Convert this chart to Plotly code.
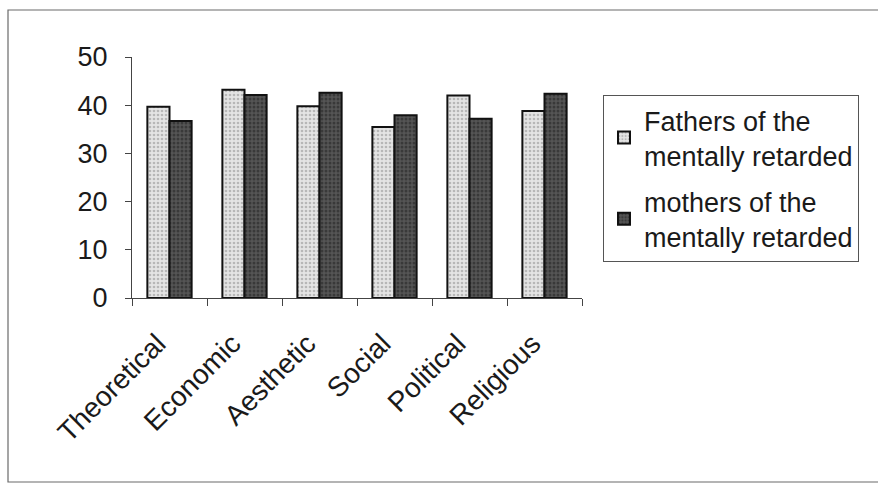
import plotly.graph_objects as go

# Value scores by parent group
categories = ["Theoretical", "Economic", "Aesthetic", "Social", "Political", "Religious"]
fathers = [39.7, 43.2, 39.8, 35.5, 42.0, 38.8]
mothers = [36.7, 42.1, 42.6, 37.9, 37.2, 42.4]
y_ticks = [0, 10, 20, 30, 40, 50]

FONT = "Liberation Sans, Arial, sans-serif"
W, H = 878, 483
L, R, T, B = 132, 296, 57, 185
plot_w = W - L - R
plot_h = H - T - B


def px_x(px):
    return (px - L) / plot_w


def px_y(py):
    return (H - B - py) / plot_h


fig = go.Figure()
fig.add_trace(go.Bar(
    x=categories, y=fathers,
    name="Fathers of the<br>mentally retarded",
    legendgroup="f",
    marker=dict(
        color="#dcdcdc",
        line=dict(color="#111111", width=2),
        pattern=dict(shape=".", fgcolor="#8a8a8a", bgcolor="#e4e4e4",
                     size=4, solidity=0.35),
    ),
))
fig.add_trace(go.Bar(
    x=categories, y=mothers,
    name="mothers of the<br>mentally retarded",
    legendgroup="m",
    marker=dict(
        color="#444444",
        line=dict(color="#111111", width=2),
        pattern=dict(shape=".", fgcolor="#1e1e1e", bgcolor="#555555",
                     size=4, solidity=0.45),
    ),
))

# Outer chart frame
fig.add_shape(type="rect", xref="paper", yref="paper",
              x0=px_x(8), x1=px_x(884), y0=px_y(482), y1=px_y(10),
              line=dict(color="#6a6a6a", width=1.2), layer="below")

fig.update_layout(
    width=W, height=H,
    margin=dict(l=L, r=R, t=T, b=B),
    paper_bgcolor="white", plot_bgcolor="white",
    barmode="group", bargap=0.41, bargroupgap=0,
    font=dict(family=FONT, size=26, color="#1a1a1a"),
    showlegend=True,
    legend=dict(
        x=px_x(603), y=px_y(95), xanchor="left", yanchor="top",
        bordercolor="#555555", borderwidth=1, bgcolor="white",
        font=dict(family=FONT, size=27, color="#1a1a1a"),
        traceorder="grouped", tracegroupgap=8,
        itemwidth=30,
    ),
    xaxis=dict(
        type="category", tickangle=-45, tickson="boundaries",
        ticks="outside", ticklen=7, tickcolor="#444444", tickwidth=1,
        showline=True, linecolor="#444444", linewidth=1,
        showgrid=False, zeroline=False,
        ticklabelstandoff=17, ticklabelshift=-12,
        tickfont=dict(family=FONT, size=28, color="#1a1a1a"),
    ),
    yaxis=dict(
        range=[0, 50], tickvals=y_ticks,
        ticks="outside", ticklen=6, tickcolor="#444444", tickwidth=1,
        showline=True, linecolor="#444444", linewidth=1,
        showgrid=False, zeroline=False, ticklabelstandoff=12,
        tickfont=dict(family=FONT, size=27, color="#1a1a1a"),
    ),
)

fig.write_html("out.html")
